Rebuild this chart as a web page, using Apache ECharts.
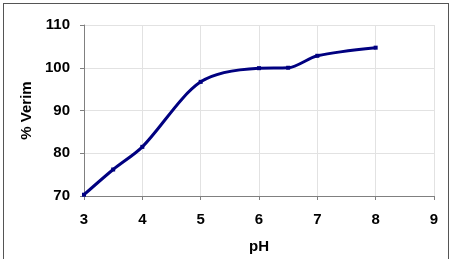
<!DOCTYPE html>
<html style="height: 100%">
<head>
    <meta charset="UTF-8">
    <script type="text/javascript" src="https://cdn.jsdelivr.net/npm/echarts@6/dist/echarts.min.js"></script>
</head>
<body style="height: 100%; margin: 0; background: #fff">
    <div id="frame" style="position: absolute; left: 3px; top: 3px; width: 446px; height: 262px; border: 1px solid #555; box-sizing: border-box;"></div>
    <div id="container" style="position: absolute; left: 0; top: 0; width: 454px; height: 259px;"></div>
    <script type="text/javascript">
        // pH vs % Verim
        var phValues = [3, 3.5, 4, 5, 6, 6.5, 7, 8];
        var verim = [70.3, 76.2, 81.5, 96.7, 99.9, 100.0, 102.8, 104.7];
        var yTicks = [70, 80, 90, 100, 110];

        var seriesData = [];
        for (var i = 0; i < phValues.length; i++) {
            seriesData.push([phValues[i], verim[i]]);
        }

        var labelFont = {
            fontFamily: 'Liberation Sans, Arial, sans-serif',
            fontWeight: 'bold',
            fontSize: 15,
            color: '#000'
        };

        var myChart = echarts.init(document.getElementById('container'));
        var option = {
            animation: false,
            grid: { left: 84, right: 20, top: 25, bottom: 63 },
            xAxis: {
                type: 'value',
                min: 3, max: 9, interval: 1,
                name: 'pH',
                nameLocation: 'middle',
                nameGap: 43,
                nameTextStyle: labelFont,
                axisLine: { lineStyle: { color: '#808080', width: 1 } },
                axisTick: { show: true, length: 4, lineStyle: { color: '#808080' } },
                axisLabel: Object.assign({ margin: 16 }, labelFont),
                splitLine: { show: true, lineStyle: { color: '#e2e2e2', width: 1 } }
            },
            yAxis: {
                type: 'value',
                min: yTicks[0], max: yTicks[yTicks.length - 1], interval: 10,
                name: '% Verim',
                nameLocation: 'middle',
                nameGap: 50,
                nameRotate: 90,
                nameTextStyle: labelFont,
                axisLine: { show: true, lineStyle: { color: '#808080', width: 1 } },
                axisTick: { show: true, length: 4, lineStyle: { color: '#808080' } },
                axisLabel: Object.assign({ margin: 14 }, labelFont),
                splitLine: { show: true, lineStyle: { color: '#e2e2e2', width: 1 } }
            },
            series: [{
                type: 'line',
                data: seriesData,
                smooth: 0.3,
                symbol: 'rect',
                symbolSize: 4,
                itemStyle: { color: '#000080' },
                lineStyle: { color: '#000080', width: 3 }
            }]
        };
        myChart.setOption(option, true);
        window.onresize = function () {
            myChart.resize();
        };
    </script>
</body>
</html>
